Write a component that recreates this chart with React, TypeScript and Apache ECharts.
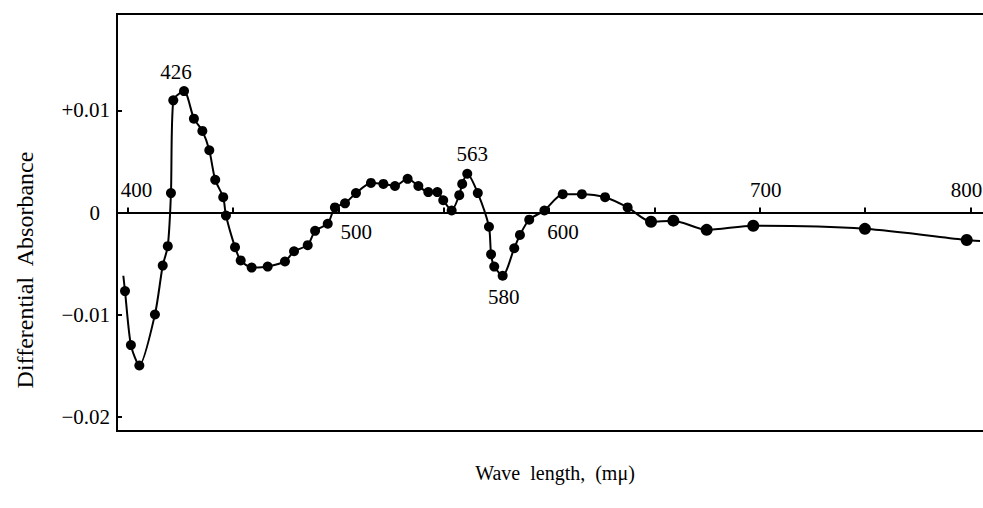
import React, { useEffect, useRef } from "react";
import * as echarts from "echarts";

// Measured curve points (wavelength in mμ, differential absorbance)
const wavelength = [398.8, 401.6, 405.6, 413.0, 416.7, 419.1, 420.6, 421.7, 426.8, 431.5, 435.5, 438.8, 441.6, 445.4, 446.7, 451.0, 453.7, 458.9, 466.5, 474.7, 479.0, 485.5, 489.0, 495.0, 498.4, 503.2, 508.4, 515.5, 521.4, 526.9, 532.9, 538.0, 542.7, 547.0, 549.8, 553.8, 557.4, 558.8, 561.2, 566.2, 571.5, 572.5, 574.0, 578.0, 583.5, 586.2, 590.6, 597.8, 606.5, 615.6, 626.6, 637.3, 648.4, 659.0, 674.8, 696.9, 749.9, 798.2];
const absorbance = [-0.0077, -0.0130, -0.0150, -0.0100, -0.0052, -0.0033, 0.0019, 0.0110, 0.0119, 0.0092, 0.0080, 0.0061, 0.0032, 0.0015, -0.0003, -0.0034, -0.0047, -0.0054, -0.0053, -0.0048, -0.0038, -0.0032, -0.0018, -0.0011, 0.0005, 0.0009, 0.0019, 0.0029, 0.0028, 0.0026, 0.0033, 0.0026, 0.0020, 0.0020, 0.0012, 0.0002, 0.0017, 0.0028, 0.0038, 0.0019, -0.0014, -0.0041, -0.0053, -0.0062, -0.0035, -0.0022, -0.0007, 0.0002, 0.0018, 0.0018, 0.0015, 0.0005, -0.0009, -0.0008, -0.0017, -0.0013, -0.0016, -0.0027];

// Where the drawn curve begins and ends (no markers there)
const curveStart = [398.0, -0.0062];
const curveEnd = [804.5, -0.0028];

// Annotated peaks
const peakLabels = ["426", "563", "580"];

// Axes
const xTickValues = [400, 450, 500, 550, 600, 650, 700, 750, 800];
const xLabelValues = [400, 500, 600, 700, 800];
const yTickValues = [-0.02, -0.01, 0, 0.01];
const yTickLabels = ["\u22120.02", "\u22120.01", "0", "+0.01"];

const SERIF = "Liberation Serif";

export default function App() {
  const ref = useRef<HTMLDivElement>(null);

  useEffect(() => {
    if (!ref.current) return;
    const chart = echarts.init(ref.current, undefined, { renderer: "svg" });

    const points: any[] = wavelength.map((w, i) => [w, absorbance[i]]);

    // peak label placement (style)
    const peakStyle: Record<string, any> = {
      "426": { position: "top", distance: 4, offset: [-8, 0] },
      "563": { position: "top", distance: 4, offset: [5, 0] },
      "580": { position: "bottom", distance: 6, offset: [1, 0] },
    };
    const lineData: any[] = points.map((p) => ({ value: p }));
    peakLabels.forEach((lab) => {
      const target = Number(lab);
      let best = 0;
      wavelength.forEach((w, i) => {
        if (Math.abs(w - target) < Math.abs(wavelength[best] - target)) best = i;
      });
      lineData[best] = {
        value: points[best],
        label: {
          show: true,
          formatter: lab,
          color: "#000",
          fontFamily: SERIF,
          fontSize: 21,
          ...peakStyle[lab],
        },
      };
    });
    const fullLine = [
      { value: curveStart, symbol: "none" },
      ...lineData,
      { value: curveEnd, symbol: "none" },
    ];

    const xLabStyle: Record<number, any> = {
      400: { position: "top", distance: 12, offset: [9, 0] },
      500: { position: "bottom", distance: 9, offset: [18, 0] },
      600: { position: "bottom", distance: 9, offset: [14, 0] },
      700: { position: "top", distance: 12, offset: [6, 0] },
      800: { position: "top", distance: 12, offset: [-4, 0] },
    };
    const xLabelData = xLabelValues.map((v) => ({
      value: [v, 0],
      label: {
        show: true,
        formatter: String(v),
        color: "#000",
        opacity: 1,
        fontFamily: SERIF,
        fontSize: 21,
        ...xLabStyle[v],
      },
    }));

    chart.setOption({
      animation: false,
      backgroundColor: "#fff",
      textStyle: { fontFamily: SERIF, color: "#000" },
      grid: {
        left: 117,
        top: 14,
        right: -10.7,
        bottom: 77,
        containLabel: false,
        outerBoundsMode: "none",
        show: true,
        borderColor: "#000",
        borderWidth: 2,
        backgroundColor: "transparent",
      },
      xAxis: {
        type: "value",
        min: 395,
        max: 811,
        axisLine: { show: true, onZero: true, lineStyle: { color: "#000", width: 2 } },
        axisTick: {
          show: true,
          inside: true,
          length: 5,
          customValues: xTickValues,
          lineStyle: { color: "#000", width: 2 },
        },
        axisLabel: { show: false },
        splitLine: { show: false },
      },
      yAxis: {
        type: "value",
        min: -0.02142,
        max: 0.01946,
        axisLine: { show: true, lineStyle: { color: "#000", width: 2 } },
        axisTick: {
          show: true,
          inside: true,
          length: 5,
          customValues: yTickValues,
          lineStyle: { color: "#000", width: 2 },
        },
        axisLabel: {
          show: true,
          customValues: yTickValues,
          margin: 7,
          color: "#000",
          fontFamily: SERIF,
          fontSize: 21,
          formatter: (v: number) => {
            let idx = 0;
            yTickValues.forEach((t, i) => {
              if (Math.abs(t - v) < Math.abs(yTickValues[idx] - v)) idx = i;
            });
            const s = yTickLabels[idx];
            return s === "0" ? "{z|0}" : "{n|" + s + "}";
          },
          rich: {
            n: { fontFamily: SERIF, fontSize: 21, color: "#000" },
            z: { fontFamily: SERIF, fontSize: 21, color: "#000", padding: [0, 10, 0, 0] },
          },
        },
        splitLine: { show: false },
      },
      graphic: [
        {
          type: "text",
          x: 25,
          y: 270,
          rotation: Math.PI / 2,
          style: {
            text: "Differential  Absorbance",
            font: `24px ${SERIF}`,
            fill: "#000",
            textAlign: "center",
            textVerticalAlign: "middle",
          },
        },
        {
          type: "text",
          x: 555,
          y: 473,
          style: {
            text: "Wave  length,  (m\u03bc)",
            font: `20px ${SERIF}`,
            fill: "#000",
            textAlign: "center",
            textVerticalAlign: "middle",
          },
        },
      ],
      series: [
        {
          type: "line",
          data: fullLine,
          smooth: 0.25,
          symbol: "circle",
          symbolSize: (val: number[]) => (val[0] > 640 ? 12 : 10),
          showSymbol: true,
          itemStyle: { color: "#000" },
          lineStyle: { color: "#000", width: 2 },
          label: { fontFamily: SERIF, fontSize: 21, color: "#000" },
          z: 3,
        },
        {
          type: "scatter",
          data: xLabelData,
          symbolSize: 0,
          itemStyle: { color: "#000", opacity: 0 },
          silent: true,
          z: 4,
        },
      ],
    });

    return () => chart.dispose();
  }, []);

  return (
    <div
      ref={ref}
      style={{ position: "absolute", left: 0, top: 0, width: 983, height: 508 }}
    />
  );
}
